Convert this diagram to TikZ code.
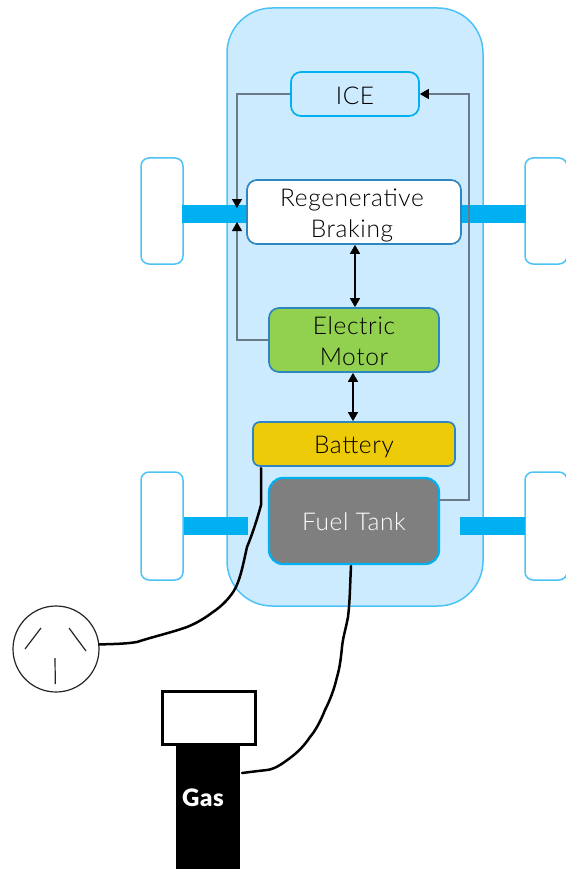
\documentclass[tikz,border=0pt]{standalone}
\usepackage{fontspec}
\setmainfont{Lato Light}[BoldFont=Lato Black,LetterSpace=2.5]
\usetikzlibrary{arrows.meta,calc}
\definecolor{bodyfill}{HTML}{CCEBFF}
\definecolor{bodyline}{HTML}{4DC3F5}
\definecolor{axle}{HTML}{00B0F0}
\definecolor{edgeblue}{HTML}{2E86C1}
\definecolor{greyline}{HTML}{6A7A8A}
\definecolor{motorgreen}{HTML}{92D050}
\definecolor{battyellow}{HTML}{EDCB08}
\definecolor{tankgrey}{HTML}{7F7F7F}
\newcommand{\lowered}[2]{\raisebox{-#1pt}[\height][\depth]{#2}}
\tikzset{
  box/.style={draw,rounded corners=10pt,line width=1.7pt,inner sep=0pt,align=center,font=\fontsize{24.5}{31}\selectfont,text=black},
  wheel/.style={draw=bodyline,fill=white,rounded corners=8pt,line width=1.5pt,inner sep=0pt},
  axlebar/.style={fill=axle,draw=none,inner sep=0pt},
  feed/.style={draw=greyline,line width=1.2pt},
  tip/.style={-{Triangle[length=9pt,width=10pt,color=black,fill=black]}},
  link/.style={draw=black,line width=1.4pt,{Triangle[length=9pt,width=10pt]}-{Triangle[length=9pt,width=10pt]}},
  cable/.style={draw=black,line width=2.5pt,line cap=round,line join=round}
}
\newcommand{\boxat}[6]{\node[box,#1,minimum width=#4pt,minimum height=#5pt,anchor=center] (#2) at (#3) {#6};}
\begin{document}
\begin{tikzpicture}[x=1pt,y=-1pt]
\useasboundingbox (0,0) rectangle (565,869);
% body
\node[draw=bodyline,fill=bodyfill,rounded corners=45pt,line width=1.5pt,minimum width=256pt,minimum height=598pt,inner sep=0pt] (body) at (355,307) {};
% wheels
\node[wheel,minimum width=42pt,minimum height=106pt] (wheelTL) at (162,211) {};
\node[wheel,minimum width=42pt,minimum height=106pt] (wheelTR) at (546,211) {};
\node[wheel,minimum width=42pt,minimum height=108pt] (wheelBL) at (162,526) {};
\node[wheel,minimum width=42pt,minimum height=108pt] (wheelBR) at (546,526) {};
% axles
\node[axlebar,minimum width=66pt,minimum height=18pt] (axleTL) at (215,214) {};
\node[axlebar,minimum width=66pt,minimum height=18pt] (axleTR) at (493,214) {};
\node[axlebar,minimum width=64pt,minimum height=18pt] (axleBL) at (216,526) {};
\node[axlebar,minimum width=65pt,minimum height=18pt] (axleBR) at (492.5,526) {};
% components
\boxat{draw=axle,fill=bodyfill}{ice}{355,94}{128}{44}{\lowered{1.5}{ICE}}
\boxat{draw=edgeblue,fill=white}{regen}{354,212}{214}{64}{\hspace*{-4pt}\lowered{3}{Regenerative}\\\hspace*{-4pt}\lowered{3}{Braking}}
\boxat{draw=edgeblue,fill=motorgreen}{motor}{354,340}{170}{64}{\lowered{1.5}{Electric}\\\lowered{1.5}{Motor}}
\boxat{draw=edgeblue,fill=battyellow,rounded corners=7pt}{batt}{354,444}{202}{44}{\lowered{3}{Battery}}
\node[box,draw=axle,fill=tankgrey,text=white,line width=2.2pt,rounded corners=14pt,minimum width=170pt,minimum height=86pt] (tank) at (354,521) {\lowered{1}{Fuel Tank}};
% feed lines
\coordinate (iceDown) at (237,208);
\coordinate (motorUp) at (237,222);
\coordinate (tankOut) at (439,500);
\coordinate (riser) at (469,500);
\draw[feed,tip] (ice.west) -| (iceDown);
\draw[feed,tip] (motor.west) -| (motorUp);
\draw[feed,tip] (tankOut) -- (riser) |- (ice.east);
% double arrows
\draw[link] ($(regen.south)+(1,0)$) -- ($(motor.north)+(1,0)$);
\draw[link] ($(motor.south)+(-1,0)$) -- ($(batt.north)+(-1,0)$);
% outlet
\node[draw=black!85,fill=white,circle,line width=1.2pt,minimum size=86pt,inner sep=0pt] (outlet) at (56,649) {};
\draw[black!85,line width=1.2pt] (41,628) -- (25,649) (69,628) -- (86,651) (55,658) -- (55.3,684);
% gas pump
\node[draw=none,fill=black,minimum width=64pt,minimum height=125pt,inner sep=0pt] (pump) at (208,806.5) {};
\node[draw=black,fill=white,line width=2.6pt,minimum width=93pt,minimum height=53pt,inner sep=0pt] (nozzle) at (209,718) {};
\node[text=white,font=\fontsize{24}{26}\selectfont\bfseries,inner sep=0pt] (gas) at (203,798) {Gas};
% cables
\coordinate (battOut) at (261,468);
\coordinate (tankIn) at (351,566);
\coordinate (pumpIn) at (242,773);
\draw[cable] (battOut) -- (261,505) .. controls (257,520) and (252,535) .. (247,547)
  .. controls (243,565) and (241,576) .. (236,587) .. controls (231,597) and (222,606) .. (213,612)
  .. controls (205,618) and (197,623) .. (187,627) .. controls (170,633) and (152,637) .. (137,642)
  .. controls (125,644) and (112,644) .. (outlet.6);
\draw[cable] (tankIn) .. controls (350,585) and (350,600) .. (348,617)
  .. controls (346,628) and (343,637) .. (342,647) .. controls (341,657) and (340,667) .. (337,677)
  .. controls (334,690) and (330,700) .. (325,710) .. controls (321,720) and (316,730) .. (310,737)
  .. controls (304,746) and (298,752) .. (290,758) .. controls (282,764) and (275,769) .. (267,770)
  .. controls (258,771) and (250,772) .. (pumpIn);
\end{tikzpicture}
\end{document}
